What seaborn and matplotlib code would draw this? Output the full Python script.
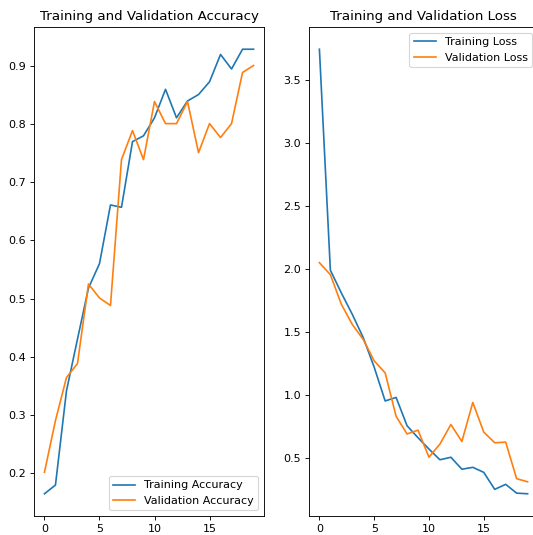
import matplotlib
matplotlib.use('Agg')
from matplotlib import pyplot as plt
import pandas as pd
import seaborn as sns

epochs = list(range(20))
train_acc = [0.164, 0.179, 0.341, 0.43, 0.518, 0.56, 0.661, 0.657, 0.770, 0.780,
             0.811, 0.860, 0.811, 0.840, 0.851, 0.873, 0.920, 0.895, 0.929, 0.929]
val_acc = [0.201, 0.29, 0.364, 0.388, 0.525, 0.501, 0.488, 0.739, 0.789, 0.739,
           0.839, 0.801, 0.801, 0.839, 0.751, 0.801, 0.777, 0.801, 0.889, 0.901]
train_loss = [3.745, 1.99, 1.81, 1.64, 1.455, 1.22, 0.952, 0.98, 0.755, 0.66,
              0.57, 0.485, 0.505, 0.41, 0.425, 0.385, 0.25, 0.29, 0.22, 0.215]
val_loss = [2.05, 1.955, 1.72, 1.56, 1.44, 1.27, 1.175, 0.83, 0.69, 0.72,
            0.505, 0.61, 0.765, 0.63, 0.94, 0.705, 0.62, 0.625, 0.335, 0.31]

df = pd.DataFrame({'epoch': epochs, 'train_acc': train_acc, 'val_acc': val_acc,
                   'train_loss': train_loss, 'val_loss': val_loss})

W, H, DPI = 533, 535, 80
fig = plt.figure(figsize=(W / DPI, H / DPI), dpi=DPI)
ax1 = fig.add_axes([34 / W, 19 / H, 230 / W, 489 / H])
ax2 = fig.add_axes([309 / W, 19 / H, 229 / W, 489 / H])

# 왼쪽: 정확도
sns.lineplot(data=df, x='epoch', y='train_acc', ax=ax1, label='Training Accuracy', color='#1f77b4')
sns.lineplot(data=df, x='epoch', y='val_acc', ax=ax1, label='Validation Accuracy', color='#ff7f0e')
ax1.legend(loc='lower right')
ax1.set_title('Training and Validation Accuracy')
ax1.set_xlabel('')
ax1.set_ylabel('')

# 오른쪽: 손실
sns.lineplot(data=df, x='epoch', y='train_loss', ax=ax2, label='Training Loss', color='#1f77b4')
sns.lineplot(data=df, x='epoch', y='val_loss', ax=ax2, label='Validation Loss', color='#ff7f0e')
ax2.legend(loc='upper right')
ax2.set_title('Training and Validation Loss')
ax2.set_xlabel('')
ax2.set_ylabel('')

for ax in (ax1, ax2):
    ax.set_xticks([0, 5, 10, 15])

fig.savefig('out.png', dpi=DPI)
